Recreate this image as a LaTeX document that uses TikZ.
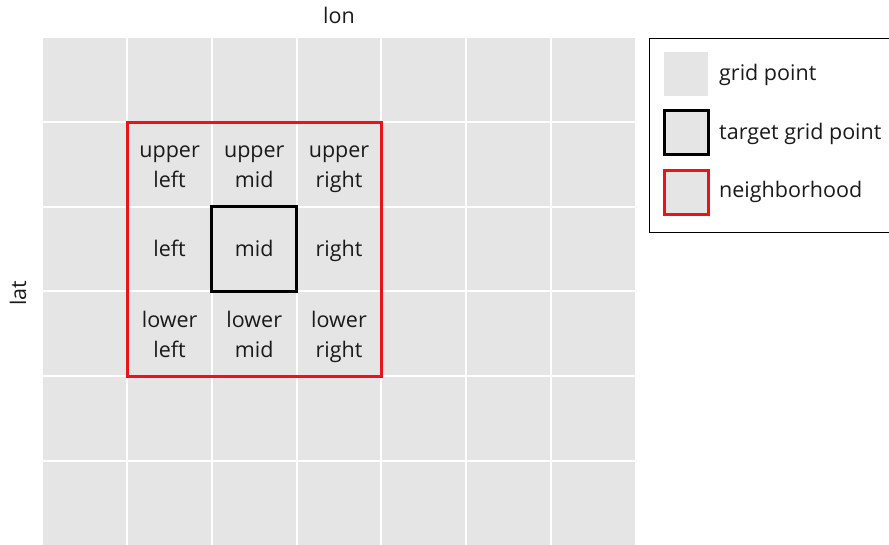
\documentclass[tikz,border=0pt]{standalone}
\usepackage{fontspec}
\setmainfont{Open Sans}
\definecolor{cellgrey}{HTML}{E5E5E5}
\definecolor{nbred}{HTML}{E8141A}
\definecolor{txt}{HTML}{1A1A1A}
\begin{document}
\begin{tikzpicture}[x=1pt,y=-1pt,
  lbl/.style={font=\fontsize{21.5}{30}\selectfont, text=txt, align=center, inner sep=0pt, anchor=base},
  cellbox/.style={fill=cellgrey, draw=none},
  nbbox/.style={draw=nbred, line width=3pt},
  tgbox/.style={draw=black, line width=3pt},
  legbox/.style={draw=black, line width=1pt, fill=white}]
\useasboundingbox (0,0) rectangle (889,545);
% grid
\fill[cellgrey] (42.5,38) rectangle (635,545);
\foreach \x in {127.2,211.9,296.6,381.3,466,550.7}
  \draw[white, line width=2pt] (\x,38) -- (\x,545);
\foreach \y in {122.5,207,291.5,376,460.5}
  \draw[white, line width=2pt] (42.5,\y) -- (635,\y);
% neighbourhood and target
\node[nbbox, minimum width=254.1pt, minimum height=253.5pt, inner sep=0pt] (nb) at (254.25,249.25) {};
\node[tgbox, minimum width=84.7pt, minimum height=84.5pt, inner sep=0pt] (tg) at (254.25,249.25) {};
% labels (base = baseline of last line)
\node[lbl] (ul) at (169.6,188) {upper\\left};
\node[lbl] (um) at (254.25,188) {upper\\mid};
\node[lbl] (ur) at (339,188) {upper\\right};
\node[lbl] (l) at (169.6,257) {left};
\node[lbl] (m) at (254.25,257) {mid};
\node[lbl] (r) at (339,257) {right};
\node[lbl] (ll) at (169.6,357) {lower\\left};
\node[lbl] (lm) at (254.25,357) {lower\\mid};
\node[lbl] (lr) at (339,357) {lower\\right};
% axes
\node[lbl] (lon) at (339,24) {lon};
\node[lbl, rotate=90, anchor=center] (lat) at (18,293) {lat};
% legend
\node[legbox, minimum width=240pt, minimum height=194pt, anchor=north west] (leg) at (648.5,38.5) {};
\node[cellbox, minimum width=44pt, minimum height=44pt, inner sep=0pt] (k1) at (686,74) {};
\node[cellbox, tgbox, minimum width=44pt, minimum height=44pt, inner sep=0pt] (k2) at (686,133) {};
\node[cellbox, nbbox, minimum width=44pt, minimum height=44pt, inner sep=0pt] (k3) at (686,193) {};
\node[lbl, anchor=base west] (t1) at (719,81) {grid point};
\node[lbl, anchor=base west] (t2) at (719,140) {target grid point};
\node[lbl, anchor=base west] (t3) at (719,198) {neighborhood};
\end{tikzpicture}
\end{document}
